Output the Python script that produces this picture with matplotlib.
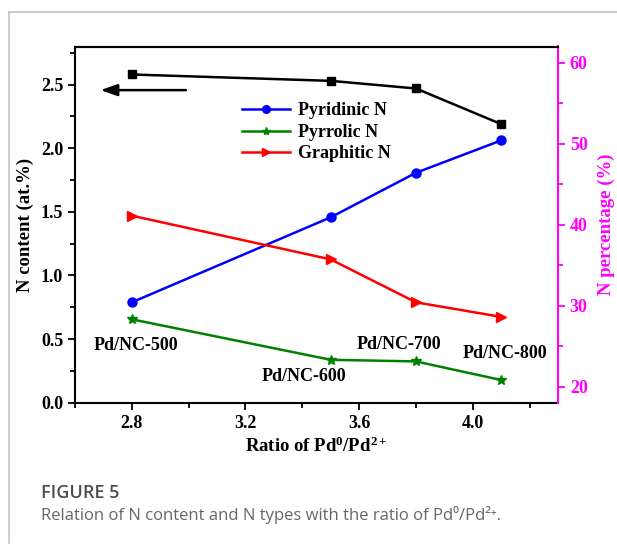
import numpy as np
import matplotlib
matplotlib.use('Agg')
import matplotlib.pyplot as plt
from matplotlib.ticker import MultipleLocator
from matplotlib.lines import Line2D

#%% Data
ratio = [2.8, 3.5, 3.8, 4.1]
n_content = [2.58, 2.53, 2.47, 2.19]          # left axis, at.%
pyridinic = [30.4, 40.9, 46.4, 50.4]         # right axis, %
pyrrolic = [28.3, 23.3, 23.1, 20.8]
graphitic = [41.1, 35.7, 30.4, 28.6]
sample_labels = ['Pd/NC-500', 'Pd/NC-600', 'Pd/NC-700', 'Pd/NC-800']
label_pos = [(2.814, 0.45), (3.407, 0.205), (3.74, 0.46), (4.112, 0.39)]

#%% Style
plt.rcParams['font.family'] = 'Liberation Serif'
plt.rcParams['font.weight'] = 'bold'
plt.rcParams['axes.labelweight'] = 'bold'
plt.rcParams['mathtext.fontset'] = 'custom'
plt.rcParams['mathtext.rm'] = 'Liberation Serif:bold'
plt.rcParams['mathtext.it'] = 'Liberation Serif:bold'
plt.rcParams['mathtext.bf'] = 'Liberation Serif:bold'

fig = plt.figure(figsize=(6.17, 5.47), dpi=100)
ax = fig.add_axes([75/617, 1-402.7/547, 483/617, 356.2/547])
ax2 = ax.twinx()

# Frame lines of the page
fig.add_artist(Line2D([9/617, 1], [1-12/547, 1-12/547], color='#c4c4c4', lw=1.2))
fig.add_artist(Line2D([9/617, 9/617], [1-12/547, 1-543/547], color='#c4c4c4', lw=1.2))

# Left axis: total N content
ax.plot(ratio, n_content, color='black', marker='s', ms=6, lw=1.8)
ax.set_xlim(2.6, 4.3)
ax.set_ylim(0, 2.8)
ax.xaxis.set_major_locator(MultipleLocator(0.4))
ax.xaxis.set_minor_locator(MultipleLocator(0.2))
ax.yaxis.set_major_locator(MultipleLocator(0.5))
ax.yaxis.set_minor_locator(MultipleLocator(0.25))
ax.set_xticks([2.8, 3.2, 3.6, 4.0])
ax.set_xticklabels(['2.8', '3.2', '3.6', '4.0'])
ax.tick_params(which='both', direction='out', width=1.3, labelsize=13, top=False)
ax.tick_params(which='major', length=5)
ax.tick_params(which='minor', length=3.5)
for lab in ax.get_xticklabels() + ax.get_yticklabels():
    lab.set_fontweight('bold')
ax.set_xlabel('Ratio of Pd$^{0}$/Pd$^{2+}$', fontsize=13.5, fontweight='bold', labelpad=4)
ax.set_ylabel('N content (at.%)', fontsize=13.5, fontweight='bold', labelpad=5)
for s in ['left', 'bottom', 'top']:
    ax.spines[s].set_linewidth(1.5)
ax.spines['right'].set_visible(False)

# Arrow pointing to the left axis
ax.annotate('', xy=(2.68, 2.457), xytext=(3.0, 2.457),
            arrowprops=dict(arrowstyle='-|>,head_length=1.0,head_width=0.35',
                            color='black', lw=1.8))

# Right axis: N types
ax2.plot(ratio, pyridinic, color='blue', marker='o', ms=6.5, lw=1.8, label='Pyridinic N')
ax2.plot(ratio, pyrrolic, color='green', marker='*', ms=7, lw=1.8, label='Pyrrolic N')
ax2.plot(ratio, graphitic, color='red', marker='>', ms=7, lw=1.8, label='Graphitic N')
ax2.set_ylim(18, 62)
ax2.yaxis.set_major_locator(MultipleLocator(10))
ax2.yaxis.set_minor_locator(MultipleLocator(5))
ax2.tick_params(which='both', direction='out', width=1.3, colors='magenta', labelsize=13)
ax2.tick_params(which='major', length=5)
ax2.tick_params(which='minor', length=3.5)
for lab in ax2.get_yticklabels():
    lab.set_fontweight('bold')
ax2.set_ylabel('N percentage (%)', fontsize=13.5, fontweight='bold', color='magenta', labelpad=7)
ax2.spines['right'].set_color('magenta')
ax2.spines['right'].set_linewidth(1.5)
ax2.spines['top'].set_linewidth(1.5)
for s in ['left', 'bottom']:
    ax2.spines[s].set_visible(False)

leg = ax2.legend(loc='upper left', bbox_to_anchor=(0.345, 0.843), frameon=False,
                 prop={'family': 'Liberation Serif', 'weight': 'bold', 'size': 13},
                 handlelength=2.7, handletextpad=0.4, markerscale=0.85,
                 labelspacing=0.25, borderpad=0, borderaxespad=0)

# Sample labels
for txt, (x, y) in zip(sample_labels, label_pos):
    ax.text(x, y, txt, fontsize=13, fontweight='bold', ha='center', va='center')

# Caption
fig.text(41/617, 1-493/547, 'FIGURE 5', family='Open Sans', weight='semibold',
         fontsize=13, color='#4d4d4d', va='center')
fig.text(41/617, 1-515/547, 'Relation of N content and N types with the ratio of Pd⁰/Pd²⁺.',
         family=['Open Sans', 'DejaVu Sans'], weight='normal',
         fontsize=12, color='#666666', va='center')

plt.savefig('out.png', dpi=100)
